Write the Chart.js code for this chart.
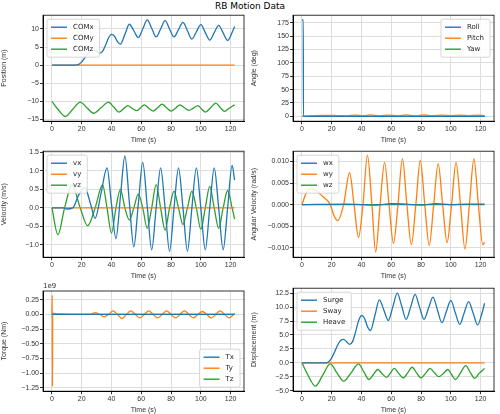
<!DOCTYPE html>
<html><head><meta charset="utf-8">
<script src="https://cdn.jsdelivr.net/npm/chart.js@4.4.0/dist/chart.umd.min.js"></script>
<style>
body{margin:0;width:500px;height:414px;background:#fff;position:relative;font-family:"DejaVu Sans",sans-serif;overflow:hidden}
#title{position:absolute;top:1px;left:0;width:500px;text-align:center;font-size:9px;font-weight:normal;color:#000}
.c{position:absolute}
</style></head><body>
<div id="title">RB Motion Data</div>
<div class="c" style="left:0;top:10px;width:250px;height:134px"><canvas id="c1"></canvas></div>
<div class="c" style="left:250px;top:10px;width:250px;height:134px"><canvas id="c2"></canvas></div>
<div class="c" style="left:0;top:146px;width:250px;height:134px"><canvas id="c3"></canvas></div>
<div class="c" style="left:250px;top:146px;width:250px;height:134px"><canvas id="c4"></canvas></div>
<div class="c" style="left:0;top:283px;width:250px;height:131px"><canvas id="c5"></canvas></div>
<div class="c" style="left:250px;top:283px;width:250px;height:131px"><canvas id="c6"></canvas></div>
<script>
const xTicks=[0,20,40,60,80,100,120];
// Position
const comxT=[0,16,18,20,22,24,26,28,30,32,34,36,38,40,42,44,46,49,52,55,58,61,64,67,70,73,76,79,82,85,88,91,94,97,100,103,106,109,112,115,118,121,122.7];
const comxV=[0,0,0.2,0.9,2,3.2,4,4.2,3.8,3.3,3.8,5.5,7.5,8.5,8,6.5,5.8,8.5,11.3,9.5,7.6,10,12.5,10.2,7.8,10,12.3,10,7.8,9.8,11.8,9.5,7.2,9.2,11.2,9,6.9,9,11,8.9,6.8,9,10.7];
const comyT=[0,122.7];
const comyV=[0,0];
const comzT=[0,4,9,14,19,23.5,28,33,38,41.5,45,48,51,54,57,59.5,62,65,68,71,74,77,80,83,86,89,92,95,98,100.5,103,106.5,110,113,116,119,122.7];
const comzV=[-10,-12.2,-14.2,-12.2,-10.2,-11.8,-13.3,-11.8,-10.2,-11.6,-13,-12.1,-11.2,-12,-12.6,-11.8,-11,-11.9,-12.7,-11.8,-10.8,-11.8,-12.7,-11.9,-11,-11.8,-12.5,-11.9,-11.2,-12.1,-13,-11.8,-10.5,-11.7,-12.8,-11.9,-11];
// Angle
const rollT=[0,0.9,1.0,122.7];
const rollV=[180,180,0,0];
const pitchT=[0,8,15,24,30,36,41,46,52,58,64,70,76,82,88,94,100,106,112,118,122.7];
const pitchV=[0,1.5,2,1.5,1,2.5,1,3,1,2.5,1,3,1,3,1,2.5,1,2.5,1,2.5,1.5];
const yawT=[0,122.7];
const yawV=[0,0];
// Velocity
const vxT=[0,8,10,14,18,22,26,29,33,37,40,43,46,49,52,55,58,61,64,67,70,73,76,79,82,85,88,91,94,97,100,103,106,109,112,115,118,121,122.7];
const vxV=[0,0,-0.03,0,0.35,0.55,0.1,-0.28,0.4,1.08,0.1,-0.83,0.3,1.4,0.15,-1.05,0.1,1.23,0.05,-1.13,0,1.08,0,-1.17,0,1.08,0,-1.17,0,1.08,0,-1.13,0,1.08,0,-1.13,0,1.15,0.75];
const vyT=[0,122.7];
const vyV=[0,0];
const vzT=[0,4,8.5,13.5,19,24,29,34,37,40,43,46,49,52,55,58,61,64,67,70,73,76,79,82,85,88,91,94,97,100,103,106,109,112,115,118,121,122.7];
const vzV=[0,-0.72,0,0.62,0,-0.48,0,0.62,0,-0.68,0,0.5,0,-0.33,0,0.37,0,-0.55,0,0.63,0,-0.6,0,0.45,0,-0.45,0,0.45,0,-0.58,0,0.58,0,-0.55,0,0.47,0,-0.3];
// Angular velocity
const wxT=[0,30,50,60,70,80,90,100,110,122.7];
const wxV=[0,0.0001,-0.0001,0.0002,0.0001,-0.0001,0.0002,0,0.0001,0.0001];
const wyT=[0,3,6.5,10,14,17,19,21.5,24,28,32,35,38,41,44,47,49.5,52.5,55.5,58.5,61.5,64.5,67.5,70.5,73.5,76.5,79.5,82.5,85.5,88.5,91.5,94.5,97.5,100.5,103.5,106.5,109.5,112.5,115.5,118.5,121.5,122.7];
const wyV=[0,0.0028,0.0037,0.0031,0.0019,0.001,0,-0.0025,-0.0037,0,0.0074,0,-0.0076,0,0.0115,0,-0.011,0,0.0098,0,-0.009,0,0.0107,0,-0.0093,0,0.0103,0,-0.0095,0,0.0095,0,-0.0088,0,0.0098,0,-0.0103,0,0.0107,0,-0.0093,-0.0087];
const wzT=[0,122.7];
const wzV=[0,0];
// Torque
const txT=[0,122.7];
const txV=[0,0];
const tyT=[0,0.2,0.35,0.5,5,20,26,29,32,35,38,41,44,47,50,53,56,59,62,65,68,71,74,77,80,83,86,89,92,95,98,101,104,107,110,113,116,119,122,122.7];
const tyV=[0,3.3e8,-1.23e9,2e7,1e7,0,0,3e7,0,-4e7,0,6e7,0,-7e7,0,6e7,0,-6e7,0,6e7,0,-6e7,0,6e7,0,-6e7,0,6e7,0,-6e7,0,5e7,0,-6e7,0,6e7,0,-6e7,0,2e7];
const tzT=[0,122.7];
const tzV=[0,0];
// Displacement
const surgeT=comxT.slice();
const surgeV=[0,0,0.2,0.9,2,3.2,4,4.2,3.8,3.3,3.8,5.5,7.5,8.5,8,6.5,5.8,8.5,11.3,9.5,7.6,10,12.5,10.2,7.8,10,12.3,10,7.8,9.8,11.8,9.5,7.2,9.2,11.2,9,6.9,9,11,8.9,6.8,9,10.7];
const swayT=[0,122.7];
const swayV=[0,0];
const heaveT=comzT.slice();
const heaveV=[0,-2.2,-4.2,-2.2,-0.2,-1.8,-3.3,-1.8,-0.2,-1.6,-3,-2.1,-1.2,-2,-2.6,-1.8,-1,-1.9,-2.7,-1.8,-0.8,-1.8,-2.7,-1.9,-1,-1.8,-2.5,-1.9,-1.2,-2.1,-3,-1.8,-0.5,-1.7,-2.8,-1.9,-1];

const C=['#1f77b4','#ff7f0e','#2ca02c'];
function ds(label,T,V,i){return {label,data:T.map((t,k)=>({x:t,y:V[k]})),borderColor:C[i],backgroundColor:C[i],borderWidth:1.3,pointRadius:0,cubicInterpolationMode:'monotone',fill:false};}
const legendPlugin={id:'lg',afterDraw(ch,a,o){const ctx=ch.ctx,ca=ch.chartArea;const items=ch.data.datasets;ctx.save();ctx.font='7px "DejaVu Sans"';
 let w=0;items.forEach(d=>w=Math.max(w,ctx.measureText(d.label).width));const bw=w+32,bh=items.length*11+5;
 let x=ca.left+4,y=ca.top+4;if(o.pos==='tr')x=ca.right-bw-4;if(o.pos==='br'){x=ca.right-bw-4;y=ca.bottom-bh-4;}
 ctx.fillStyle='rgba(255,255,255,0.85)';ctx.strokeStyle='#ccc';ctx.lineWidth=0.8;ctx.beginPath();ctx.roundRect(x,y,bw,bh,2);ctx.fill();ctx.stroke();
 items.forEach((d,k)=>{const yy=y+8+k*11;ctx.strokeStyle=d.borderColor;ctx.lineWidth=1.4;ctx.beginPath();ctx.moveTo(x+4,yy);ctx.lineTo(x+20,yy);ctx.stroke();ctx.fillStyle='#222';ctx.textBaseline='middle';ctx.fillText(d.label,x+26,yy);});
 if(o.exp){ctx.fillStyle='#333';ctx.textBaseline='bottom';ctx.fillText(o.exp,ca.left,ca.top-1);}
 ctx.strokeStyle='#000';ctx.lineWidth=0.8;ctx.strokeRect(ca.left,ca.top,ca.right-ca.left,ca.bottom-ca.top);ctx.restore();}};
function make(id,sets,ylabel,ymin,ymax,step,fmt,pos,exp){
 new Chart(document.getElementById(id),{type:'line',data:{datasets:sets},plugins:[legendPlugin],
 options:{responsive:true,maintainAspectRatio:false,animation:false,layout:{padding:{top:exp?8:4,right:6,left:0,bottom:0}},
 plugins:{legend:{display:false},tooltip:{enabled:false},lg:{pos,exp}},
 scales:{x:{type:'linear',min:-6,max:129,afterBuildTicks:s=>{s.ticks=xTicks.map(v=>({value:v}));},
   grid:{color:'#ddd',tickLength:3,tickColor:'#333'},border:{color:'#000'},ticks:{font:{size:7},color:'#333',padding:1},
   title:{display:true,text:'Time (s)',font:{size:7},color:'#333',padding:{top:1,bottom:0}}},
  y:{min:ymin,max:ymax,afterFit:s=>{s.width=43;},afterBuildTicks:s=>{const t=[];for(let v=Math.ceil(ymin/step)*step;v<=ymax+1e-12;v+=step)t.push({value:v});s.ticks=t;},
   grid:{color:'#ddd',tickLength:3,tickColor:'#333'},border:{color:'#000'},ticks:{font:{size:7},color:'#333',padding:1,callback:fmt},
   title:{display:true,text:ylabel,font:{size:7},color:'#333',padding:{top:0,bottom:1}}}}}});
}
const f0=v=>Math.round(v).toString().replace('-','−');
const fd=d=>v=>(Math.abs(v)<1e-12?0:v).toFixed(d).replace('-','−');
make('c1',[ds('COMx',comxT,comxV,0),ds('COMy',comyT,comyV,1),ds('COMz',comzT,comzV,2)],'Position (m)',-15.5,13.8,5,f0,'tl');
make('c2',[ds('Roll',rollT,rollV,0),ds('Pitch',pitchT,pitchV,1),ds('Yaw',yawT,yawV,2)],'Angle (deg)',-9,189,25,f0,'tr');
make('c3',[ds('vx',vxT,vxV,0),ds('vy',vyT,vyV,1),ds('vz',vzT,vzV,2)],'Velocity (m/s)',-1.33,1.53,0.5,fd(1),'tl');
make('c4',[ds('wx',wxT,wxV,0),ds('wy',wyT,wyV,1),ds('wz',wzT,wzV,2)],'Angular Velocity (rad/s)',-0.0122,0.0124,0.005,fd(3),'tl');
make('c5',[ds('Tx',txT,txV,0),ds('Ty',tyT,tyV,1),ds('Tz',tzT,tzV,2)],'Torque (Nm)',-1.31e9,0.4e9,0.25e9,v=>fd(2)(v/1e9),'br','1e9');
make('c6',[ds('Surge',surgeT,surgeV,0),ds('Sway',swayT,swayV,1),ds('Heave',heaveT,heaveV,2)],'Displacement (m)',-5.1,13.4,2.5,fd(1),'tl');
</script></body></html>
